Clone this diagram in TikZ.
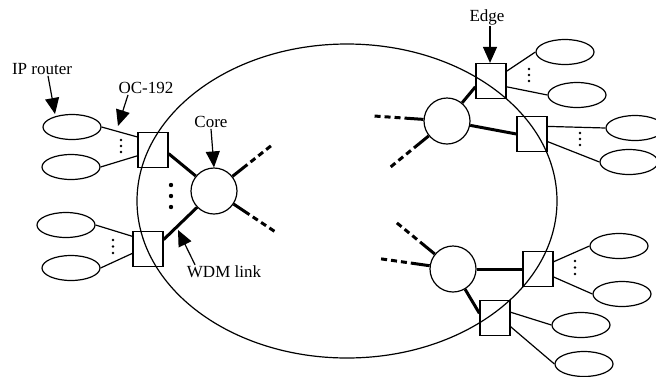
\documentclass[tikz,border=0pt]{standalone}
\usepackage{fontspec}
\setmainfont{Liberation Serif}
\usetikzlibrary{calc,shapes.geometric,arrows.meta}
\begin{document}
\begin{tikzpicture}[x=1pt,y=-1pt,
  router/.style={draw,ellipse,line width=1.2pt,minimum width=58pt,minimum height=25pt,inner sep=0pt},
  edgebox/.style={draw,rectangle,line width=1.2pt,minimum width=30pt,minimum height=35pt,inner sep=0pt},
  corenode/.style={draw,circle,line width=1.2pt,minimum size=46pt,inner sep=0pt},
  thinlink/.style={line width=1.2pt},
  wdm/.style={line width=3pt},
  spoke/.style={line width=3pt,dash pattern=on 19pt off 4pt on 6pt off 4pt on 6pt off 4pt on 6pt off 300pt},
  lbl/.style={inner sep=1pt,font=\fontsize{17}{20}\selectfont},
  pointer/.style={line width=1.2pt,-{Triangle[length=16pt,width=14pt]}},
]
\useasboundingbox (0,0) rectangle (656,376);
% big ellipse
\draw[line width=1.2pt] (347,201) ellipse [x radius=210, y radius=157];

% routers
\node[router] (r1) at (72,127) {};
\node[router] (r2) at (71,167) {};
\node[router] (r3) at (66,225) {};
\node[router] (r4) at (71,268) {};
\node[router] (r5) at (565,52) {};
\node[router] (r6) at (577,95) {};
\node[router] (r7) at (635,128) {};
\node[router] (r8) at (629,162) {};
\node[router] (r9) at (619,246) {};
\node[router] (r10) at (622,294) {};
\node[router] (r11) at (581,325) {};
\node[router] (r12) at (584,364) {};

% edge switches
\node[edgebox,fill=white] (s1) at (153,150) {};
\node[edgebox,fill=white] (s2) at (148,249) {};
\node[edgebox,fill=white] (s3) at (491,81) {};
\node[edgebox,fill=white] (s4) at (532,134) {};
\node[edgebox,fill=white] (s5) at (538,269) {};
\node[edgebox,fill=white] (s6) at (495,318) {};
% redraw ellipse crossing inside boxes
\begin{scope}
\clip (s1.north west) rectangle (s1.south east) (s2.north west) rectangle (s2.south east)
      (s3.north west) rectangle (s3.south east) (s4.north west) rectangle (s4.south east)
      (s5.north west) rectangle (s5.south east) (s6.north west) rectangle (s6.south east);
\draw[line width=1.2pt] (347,201) ellipse [x radius=210, y radius=157];
\end{scope}

% core nodes
\node[corenode,fill=white] (c1) at (214,191) {};
\node[corenode,fill=white] (c2) at (447,121) {};
\node[corenode,fill=white] (c3) at (453,269) {};

% thin links router - edge
\draw[thinlink] (r1.east) -- ($(s1.north west)!0.14!(s1.south west)$);
\draw[thinlink] (r2.east) -- ($(s1.north west)!0.66!(s1.south west)$);
\draw[thinlink] (r3.east) -- ($(s2.north west)!0.15!(s2.south west)$);
\draw[thinlink] (r4.east) -- ($(s2.north west)!0.62!(s2.south west)$);
\draw[thinlink] ($(s3.north east)!0.23!(s3.south east)$) -- (r5.west);
\draw[thinlink] ($(s3.north east)!0.66!(s3.south east)$) -- (r6.west);
\draw[thinlink] ($(s4.north east)!0.29!(s4.south east)$) -- (r7.west);
\draw[thinlink] ($(s4.north east)!0.71!(s4.south east)$) -- (r8.west);
\draw[thinlink] ($(s5.north east)!0.30!(s5.south east)$) -- (r9.west);
\draw[thinlink] ($(s5.north east)!0.72!(s5.south east)$) -- (r10.west);
\draw[thinlink] ($(s6.north east)!0.34!(s6.south east)$) -- (r11.west);
\draw[thinlink] ($(s6.north east)!0.74!(s6.south east)$) -- (r12.west);

% WDM links edge - core
\draw[wdm] ($(s1.north east)!0.6!(s1.south east)$) -- (c1);
\draw[wdm] ($(s2.north east)!0.24!(s2.south east)$) -- (c1);
\draw[wdm] (c2) -- ($(s3.north west)!0.66!(s3.south west)$);
\draw[wdm] (c2) -- (s4.west);
\draw[wdm] (c3) -- (s5.west);
\draw[wdm] (c3) -- ($(s6.north west)!0.37!(s6.south west)$);

% dashed spokes
\coordinate (k1) at ($(c1)!75pt!(272,145)$);
\coordinate (k2) at ($(c1)!75pt!(277,233)$);
\coordinate (k3) at ($(c2)!75pt!(374,116)$);
\coordinate (k4) at ($(c2)!75pt!(393,165)$);
\coordinate (k5) at ($(c3)!75pt!(397,223)$);
\coordinate (k6) at ($(c3)!75pt!(375,258)$);
\foreach \c/\k in {c1/k1,c1/k2,c2/k3,c2/k4,c3/k5,c3/k6}
  \draw[spoke] (\c) -- (\k);

% small dots
\foreach \x/\y in {121/140,121/146,121/152, 113/240,113/246.5,113/253,
                   529/69,529/75,529/81, 580/133,580/139,580/145, 575/261,575/267.5,575/274}
  \fill (\x,\y) circle (1.3);
% large dots
\foreach \y in {185,196,207}
  \fill (171,\y) circle (2.2);

% labels
\node[lbl] (iplabel) at (42,69) {IP router};
\node[lbl] (oclabel) at (146,88) {OC-192};
\node[lbl] (corelabel) at (211,122) {Core};
\node[lbl] (wdmlabel) at (224,272) {WDM link};
\node[lbl] (edgelabel) at (487,17) {Edge};

\coordinate (iphead) at (55,114);
\coordinate (ochead) at (118,126);
\coordinate (wdmhead) at (178,230);
\draw[pointer] ([xshift=6pt]iplabel.south) -- (iphead);
\draw[pointer] ([xshift=-18pt]oclabel.south) -- (ochead);
\draw[pointer] (corelabel.south) -- (c1.north);
\draw[pointer] ([xshift=-29pt]wdmlabel.north) -- (wdmhead);
\draw[pointer] ([xshift=3pt]edgelabel.south) -- ([xshift=-1pt]s3.north);
\end{tikzpicture}
\end{document}
